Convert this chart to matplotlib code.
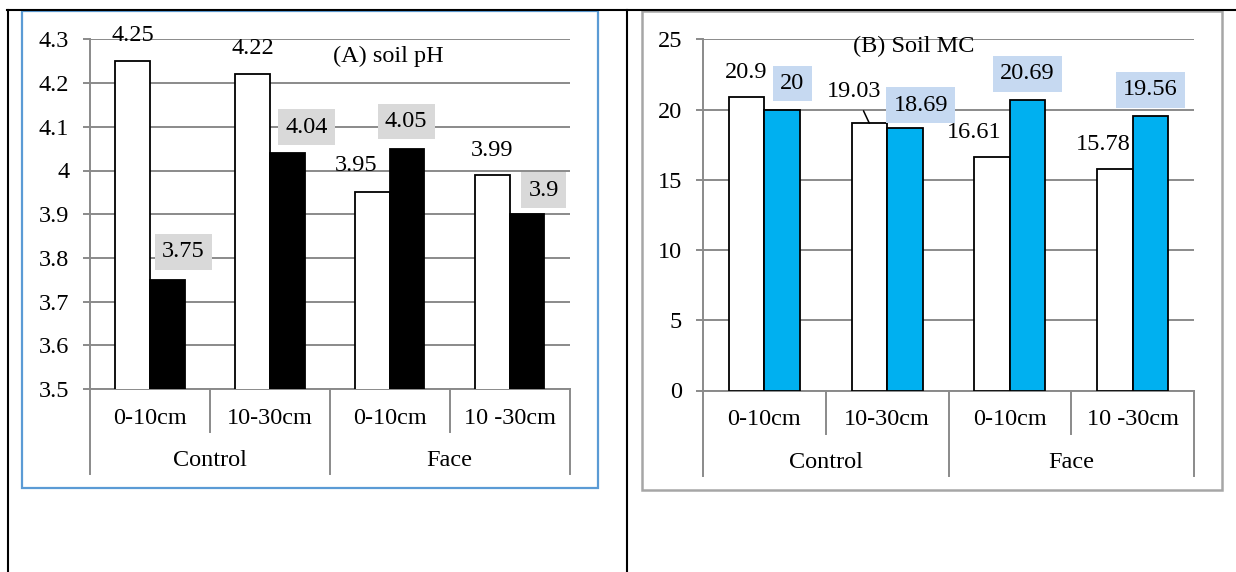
import numpy as np
import matplotlib
matplotlib.use('Agg')
import matplotlib.pyplot as plt
from matplotlib.lines import Line2D
from matplotlib.patches import Rectangle

# =============================================================================
# data
# =============================================================================
depths = ['0-10cm', '10-30cm', '0-10cm', '10 -30cm']
treatments = ['Control', 'Face']

ph_white = [4.25, 4.22, 3.95, 3.99]
ph_black = [3.75, 4.04, 4.05, 3.9]
ph_ticks = [3.5, 3.6, 3.7, 3.8, 3.9, 4.0, 4.1, 4.2, 4.3]

mc_white = [20.9, 19.03, 16.61, 15.78]
mc_blue = [20, 18.69, 20.69, 19.56]
mc_ticks = [0, 5, 10, 15, 20, 25]

plt.rcParams['font.family'] = ['Liberation Serif', 'DejaVu Serif']
plt.rcParams['font.size'] = 17.5

W, H = 1236, 572
GRID = '#8a8a8a'
fig = plt.figure(figsize=(W / 100, H / 100), dpi=100)


def px_axes(left, top, right, bottom):
    return fig.add_axes([left / W, 1 - bottom / H, (right - left) / W, (bottom - top) / H])


def fig_line(x1, y1, x2, y2, color='black', lw=1.5):
    fig.add_artist(Line2D([x1 / W, x2 / W], [1 - y1 / H, 1 - y2 / H],
                          transform=fig.transFigure, color=color, lw=lw))


def fig_box(left, top, right, bottom, color, lw=1.5):
    fig.add_artist(Rectangle((left / W, 1 - bottom / H), (right - left) / W, (bottom - top) / H,
                             transform=fig.transFigure, fill=False, edgecolor=color, lw=lw))


def draw_panel(ax, white, second, color, box_color, ticks, title, title_pos,
               off_white, off_second, leader=None):
    x = np.arange(len(depths))
    w = 0.29
    ax.bar(x - w / 2, white, w, color='white', edgecolor='black', lw=1.3, zorder=3)
    ax.bar(x + w / 2, second, w, color=color, edgecolor='black', lw=1.3, zorder=3)
    ax.set_xlim(-0.5, 3.5)
    ax.set_ylim(ticks[0], ticks[-1])
    ax.set_yticks(ticks)
    ax.set_yticklabels(['{:g}'.format(t) for t in ticks])
    ax.yaxis.grid(True, color=GRID, lw=1.4)
    ax.set_axisbelow(True)
    for s in ['top', 'right']:
        ax.spines[s].set_visible(False)
    for s in ['left', 'bottom']:
        ax.spines[s].set_color(GRID)
        ax.spines[s].set_linewidth(1.4)
    ax.tick_params(axis='y', length=5, width=1.4, color=GRID, pad=10)
    ax.tick_params(axis='x', length=0, labelbottom=False)

    # two-level category axis
    tr = ax.get_xaxis_transform()
    for i, d in enumerate(depths):
        ax.text(i, -0.083, d, transform=tr, ha='center', va='center')
    for j, t in enumerate(treatments):
        ax.text(2 * j + 0.5, -0.205, t, transform=tr, ha='center', va='center')
    for xs in [0.5, 2.5]:
        ax.plot([xs, xs], [0, -0.123], transform=tr, color=GRID, lw=1.4, clip_on=False)
    for xs in [-0.5, 1.5, 3.5]:
        ax.plot([xs, xs], [0, -0.243], transform=tr, color=GRID, lw=1.4, clip_on=False)

    # value labels
    for i, v in enumerate(white):
        dx, dy = off_white[i]
        kw = {}
        if leader == i:
            kw['arrowprops'] = dict(arrowstyle='-', color='black', lw=1.1, shrinkA=5, shrinkB=0)
        ax.annotate('{:g}'.format(v), xy=(x[i] - w / 2, v), xytext=(dx * 0.72, dy * 0.72),
                    textcoords='offset points', ha='center', va='center', zorder=5, **kw)
    for i, v in enumerate(second):
        dx, dy = off_second[i]
        ax.annotate('{:g}'.format(v), xy=(x[i] + w / 2, v), xytext=(dx * 0.72, dy * 0.72),
                    textcoords='offset points', ha='center', va='center', zorder=5,
                    bbox=dict(boxstyle='square,pad=0.3', fc=box_color, ec='none'))
    ax.text(title_pos[0], title_pos[1], title, transform=ax.transAxes,
            ha='center', va='center', zorder=5)


# outer table lines
fig_line(7, 9.5, W, 9.5)
fig_line(8, 9.5, 8, H)
fig_line(627, 9.5, 627, H)

# panel frames
fig_box(22, 11, 598, 488, '#5b9bd5', lw=1.6)
fig_box(642, 11, 1222, 490, '#a6a6a6', lw=1.8)

ax1 = px_axes(90, 39.4, 569.5, 389)
draw_panel(ax1, ph_white, ph_black, 'black', '#d9d9d9', ph_ticks,
           '(A) soil pH', (0.6215, 0.9525),
           [(0, 26), (0, 26), (-16, 27), (0, 24)],
           [(16, 28), (19, 26), (-1, 27), (17, 24)])

ax2 = px_axes(703, 39.4, 1194, 390.5)
draw_panel(ax2, mc_white, mc_blue, '#00b0f0', '#c6d9f1', mc_ticks,
           '(B) Soil MC', (0.43, 0.9786),
           [(0, 24), (-15, 32), (-18, 25), (-12, 24)],
           [(10, 26), (16, 23), (0, 26), (0, 26)],
           leader=1)

fig.savefig('out.png', dpi=100)
